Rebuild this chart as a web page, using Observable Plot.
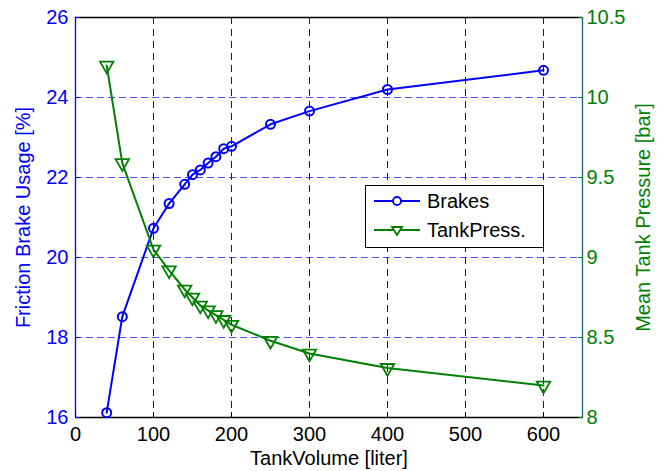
<!DOCTYPE html>
<html><head><meta charset="utf-8">
<script src="https://cdn.jsdelivr.net/npm/d3@7"></script>
<script src="https://cdn.jsdelivr.net/npm/@observablehq/plot@0.6"></script>
<style>
body{margin:0;background:#fff;}
#wrap{position:relative;width:669px;height:471px;font-family:"Liberation Sans",Arial,sans-serif;}
#legend{position:absolute;left:365px;top:185px;width:177px;height:61px;border:1px solid #000;background:#fff;}
#legend svg{display:block;}
</style></head><body><div id="wrap"></div>
<script>
// data
const volume = [40, 60, 100, 120, 140, 150, 160, 170, 180, 190, 200, 250, 300, 400, 600];
const brakes = [16.12, 18.52, 20.73, 21.35, 21.83, 22.07, 22.19, 22.36, 22.52, 22.72, 22.78, 23.33, 23.66, 24.2, 24.68];
const tankPress = [10.2, 9.59, 9.05, 8.92, 8.80, 8.75, 8.70, 8.67, 8.64, 8.61, 8.58, 8.48, 8.40, 8.31, 8.20];
const xTicks = [0, 100, 200, 300, 400, 500, 600];
const leftTicks = [16, 18, 20, 22, 24, 26];
const rightTicks = [8, 8.5, 9, 9.5, 10, 10.5];
const xGrid = [100, 200, 300, 400, 500, 600];
const yGrid = [18, 20, 22, 24];
const seriesNames = ["Brakes", "TankPress."];

const BLUE = "#0000ff", GREEN = "#008000";
// map the right axis (8..10.5 bar) onto the left scale (16..26 %)
const toLeft = p => 16 + (p - 8) * 4;
const fromLeft = v => 8 + (v - 16) / 4;

const chart = Plot.plot({
  width: 669, height: 471,
  marginLeft: 75, marginRight: 87, marginTop: 17, marginBottom: 54,
  style: {fontFamily: "Liberation Sans, Arial, sans-serif", fontSize: "20px", background: "white", overflow: "visible"},
  x: {domain: [0, 650]},
  y: {domain: [16, 26]},
  marks: [
    Plot.ruleY(yGrid, {stroke: "#5050ff", strokeDasharray: "7,4", strokeWidth: 1}),
    Plot.ruleX(xGrid, {stroke: "#222", strokeDasharray: "7,5", strokeWidth: 1}),
    Plot.ruleY([16, 26], {stroke: "#000", strokeWidth: 1.3}),
    Plot.ruleX([0], {stroke: BLUE, strokeWidth: 1.3}),
    Plot.ruleX([650], {stroke: "#1d5f75", strokeWidth: 1.3}),
    Plot.axisX(xTicks, {tickSize: -5, tickPadding: 14, color: "#000", label: "TankVolume [liter]", labelAnchor: "center", labelArrow: "none", labelOffset: 47}),
    Plot.axisY(leftTicks, {anchor: "left", tickSize: -5, tickPadding: 12, color: BLUE, label: "Friction Brake Usage [%]", labelAnchor: "center", labelArrow: "none", labelOffset: 60}),
    Plot.axisY(rightTicks.map(toLeft), {anchor: "right", tickSize: -5, tickPadding: 9, color: GREEN, tickFormat: v => String(fromLeft(v)), label: "Mean Tank Pressure [bar]", labelAnchor: "center", labelArrow: "none", labelOffset: 67}),
    Plot.line(volume, {x: d => d, y: (d, i) => brakes[i], stroke: BLUE, strokeWidth: 2}),
    Plot.dot(volume, {x: d => d, y: (d, i) => brakes[i], r: 4.5, stroke: BLUE, strokeWidth: 2, fill: "none"}),
    Plot.line(volume, {x: d => d, y: (d, i) => toLeft(tankPress[i]), stroke: GREEN, strokeWidth: 2}),
    Plot.dot(volume, {x: d => d, y: (d, i) => toLeft(tankPress[i]), symbol: "triangle", rotate: 180, r: 5, stroke: GREEN, strokeWidth: 1.8, fill: "none"})
  ]
});
const wrap = document.getElementById("wrap");
wrap.appendChild(chart);

// legend
const legend = document.createElement("div");
legend.id = "legend";
const ns = "http://www.w3.org/2000/svg";
const svg = document.createElementNS(ns, "svg");
svg.setAttribute("width", 177); svg.setAttribute("height", 61);
svg.setAttribute("font-family", "Liberation Sans, Arial, sans-serif");
svg.setAttribute("font-size", "20");
const rows = [{name: seriesNames[0], color: BLUE, sym: "circle"}, {name: seriesNames[1], color: GREEN, sym: "tri"}];
rows.forEach((r, i) => {
  const cy = 15 + i * 29;
  const ln = document.createElementNS(ns, "line");
  ln.setAttribute("x1", 8); ln.setAttribute("x2", 54); ln.setAttribute("y1", cy); ln.setAttribute("y2", cy);
  ln.setAttribute("stroke", r.color); ln.setAttribute("stroke-width", 2);
  svg.appendChild(ln);
  let m;
  if (r.sym === "circle") {
    m = document.createElementNS(ns, "circle");
    m.setAttribute("cx", 31); m.setAttribute("cy", cy); m.setAttribute("r", 4);
  } else {
    m = document.createElementNS(ns, "path");
    m.setAttribute("d", `M${31 - 5},${cy - 3}L${31 + 5},${cy - 3}L31,${cy + 5}Z`);
  }
  m.setAttribute("fill", "white"); m.setAttribute("stroke", r.color); m.setAttribute("stroke-width", 1.8);
  svg.appendChild(m);
  const t = document.createElementNS(ns, "text");
  t.setAttribute("x", 61); t.setAttribute("y", cy); t.setAttribute("dy", "0.35em");
  t.textContent = r.name;
  svg.appendChild(t);
});
legend.appendChild(svg);
wrap.appendChild(legend);
</script></body></html>
